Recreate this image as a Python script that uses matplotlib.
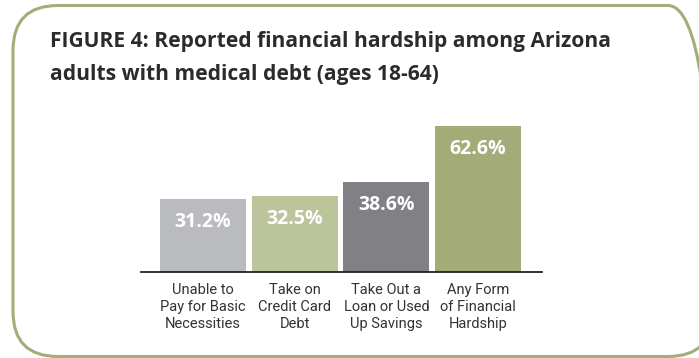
import matplotlib.pyplot as plt
from matplotlib import font_manager
from matplotlib.patches import FancyBboxPatch

# dados
categorias = ['Unable to\nPay for Basic\nNecessities',
              'Take on\nCredit Card\nDebt',
              'Take Out a\nLoan or Used\nUp Savings',
              'Any Form\nof Financial\nHardship']
valores = [31.2, 32.5, 38.6, 62.6]
rotulos = ['31.2%', '32.5%', '38.6%', '62.6%']
cores = ['#babbbf', '#bcc49c', '#808085', '#a3ab78']

# fonte estreita para os rotulos das categorias, se existir
nomes = set(f.name for f in font_manager.fontManager.ttflist)
fonte_cat = 'Liberation Sans Narrow' if 'Liberation Sans Narrow' in nomes else 'Roboto'

W, H = 699, 358
fig = plt.figure(figsize=(W / 100, H / 100), dpi=100)

# moldura arredondada (em polegadas)
moldura = FancyBboxPatch((0.13, 0.015), 7.0, 3.51,
                         boxstyle='round,pad=0,rounding_size=0.45',
                         transform=fig.dpi_scale_trans, fill=False,
                         edgecolor='#a4ad78', linewidth=2.2, clip_on=False)
fig.patches.append(moldura)

fig.text(50 / W, 1 - 47 / H, 'FIGURE 4: Reported financial hardship among Arizona',
         fontsize=15.1, fontweight='bold', color='#2b2b2b',
         family=['Open Sans', 'DejaVu Sans'], va='baseline')
fig.text(50 / W, 1 - 80 / H, 'adults with medical debt (ages 18-64)',
         fontsize=15.1, fontweight='bold', color='#2b2b2b',
         family=['Open Sans', 'DejaVu Sans'], va='baseline')

ax = fig.add_axes([141 / W, (H - 272) / H, 401 / W, 163.5 / H])
x = list(range(len(valores)))
ax.bar(x, valores, width=0.938, color=cores)
ax.set_xlim(-0.676, 3.698)
ax.set_ylim(0, 70)

for i, v in enumerate(valores):
    ax.annotate(rotulos[i], (i, v), xytext=(0, -16.5), textcoords='offset points',
                ha='center', va='center', color='white', fontsize=14,
                fontweight='bold', family=['Open Sans', 'DejaVu Sans'])
    ax.annotate(categorias[i], (i, 0), xycoords=('data', 'axes fraction'),
                xytext=(0, -8), textcoords='offset points',
                ha='center', va='top', color='#333333', fontsize=10.5,
                linespacing=1.25,
                family=[fonte_cat, 'DejaVu Sans'])

for s in ['top', 'right', 'left']:
    ax.spines[s].set_visible(False)
ax.spines['bottom'].set_linewidth(1.3)
ax.spines['bottom'].set_color('#222222')
ax.set_xticks([])
ax.set_yticks([])
ax.patch.set_alpha(0)

fig.savefig('out.png', dpi=100)
